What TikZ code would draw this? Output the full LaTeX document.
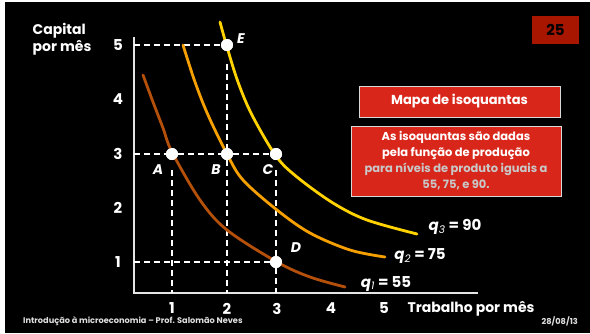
\documentclass[tikz,border=0pt]{standalone}
\usepackage{fontspec}
\setmainfont{Poppins}
\usetikzlibrary{calc}
\definecolor{qone}{HTML}{B4500A}
\definecolor{qtwo}{HTML}{F5A000}
\definecolor{qthree}{HTML}{FFD200}
\definecolor{boxred}{HTML}{D9261A}
\definecolor{numred}{HTML}{A81600}
\definecolor{palegray}{HTML}{C8C8C8}
\tikzset{
  lab/.style={text=white,font=\bfseries\fontsize{15}{17}\selectfont,inner sep=0pt},
  ptlab/.style={text=white,font=\bfseries\itshape\fontsize{14}{16}\selectfont,inner sep=0pt},
  dot/.style={circle,fill=white,minimum size=12pt,inner sep=0pt},
  dline/.style={draw=white,line width=1.4pt,dash pattern=on 6pt off 4pt},
  axis/.style={draw=white!90!black,line width=1.6pt},
  curve/.style={line width=2.8pt,line cap=round},
  redbox/.style={fill=boxred,draw=white!85!black,line width=0.8pt,text=white,inner sep=0pt},
  foot/.style={text=white!88!black,font=\bfseries\fontsize{8.2}{10}\selectfont,inner sep=0pt}
}
\begin{document}
\begin{tikzpicture}[x=1pt,y=-1pt]
\useasboundingbox (0,0) rectangle (590,333);
\fill[white] (0,0) rectangle (590,333);
\fill[black] (5,2) rectangle (590,333);
% axes
\coordinate (O) at (134,293);
\coordinate (ytop) at (134,37);
\coordinate (xend) at (478,293);
\draw[axis] (ytop) -- (O) -- (xend);
% points
\node[dot] (A) at (172,154) {};
\node[dot] (B) at (227,154) {};
\node[dot] (C) at (276,154) {};
\node[dot] (D) at (276,262) {};
\node[dot] (E) at (227,45) {};
% axis coordinates
\coordinate (y5) at (134,45);
\coordinate (y3) at (134,154);
\coordinate (y1) at (134,262);
\coordinate (x1) at (172,293);
\coordinate (x2) at (227,293);
\coordinate (x3) at (276,293);
\coordinate (Alow) at (172,170);
\coordinate (Clow) at (276,170);
\coordinate (Elow) at (227,64);
% dashed lines
\draw[dline] (y5) -- (E.west);
\draw[dline] (Elow) -- (B.north);
\draw[dline] (B.south) -- (x2);
\draw[dline] (y3) -- (A.west);
\draw[dline] (A.east) -- (B.west);
\draw[dline] (B.east) -- (C.west);
\draw[dline] (Alow) -- (x1);
\draw[dline] (Clow) -- (D.north);
\draw[dline] (D.south) -- (x3);
\draw[dline] (y1) -- (D.west);
% curves
\draw[curve,qone] plot[smooth,tension=0.55] coordinates {(143,75) (153,102) (163,128) (172,152) (200,200) (227,230) (277,262) (310,277) (345,287)};
\draw[curve,qtwo] plot[smooth,tension=0.55] coordinates {(183,45) (195,82) (208,115) (227,154) (243,180) (277,210) (310,233) (350,250) (385,257)};
\draw[curve,qthree] plot[smooth,tension=0.55] coordinates {(220,22) (227,47) (238,82) (252,115) (276,156) (297,177) (333,203) (367,220) (417,234)};
\node[dot] at (A) {};
\node[dot] at (B) {};
\node[dot] at (C) {};
\node[dot] at (D) {};
\node[dot] at (E) {};
% point labels
\node[ptlab] (lA) at (158,170) {A};
\node[ptlab] (lB) at (216,170) {B};
\node[ptlab] (lC) at (268,170) {C};
\node[ptlab] (lD) at (296,248) {D};
\node[ptlab] (lE) at (241,39) {E};
% tick labels
\node[lab] (t5) at (118,45) {5};
\node[lab] (t4) at (118,99) {4};
\node[lab] (t3) at (118,154) {3};
\node[lab] (t2) at (118,208) {2};
\node[lab] (t1) at (118,262) {1};
\node[lab] (s1) at (172,308.5) {1};
\node[lab] (s2) at (227,308.5) {2};
\node[lab] (s3) at (277,308.5) {3};
\node[lab] (s4) at (331,308.5) {4};
\node[lab] (s5) at (384,308.5) {5};
% axis titles
\node[lab,align=left,font=\bfseries\fontsize{14}{17}\selectfont] (ytitle) at (62,39) {Capital\\por mês};
\node[lab,font=\bfseries\fontsize{14}{16}\selectfont] (xtitle) at (471,309) {Trabalho por mês};
% curve labels
\node[lab,font=\bfseries\fontsize{15}{17}\selectfont] (l3) at (455,227) {\textit{q}$_{\mathit 3}$ = 90};
\node[lab,font=\bfseries\fontsize{15}{17}\selectfont] (l2) at (420,256) {\textit{q}$_{\mathit 2}$ = 75};
\node[lab,font=\bfseries\fontsize{15}{17}\selectfont] (l1) at (386,284) {\textit{q}$_{\mathit 1}$ = 55};
% boxes
\node[fill=numred,minimum width=47pt,minimum height=28pt,inner sep=0pt,font=\bfseries\fontsize{15}{17}\selectfont] (num) at (555.5,30) {25};
\node[redbox,minimum width=201pt,minimum height=31pt,font=\bfseries\fontsize{13}{15}\selectfont] (title) at (459.5,101.5) {Mapa de isoquantas};
\node[redbox,minimum width=210pt,minimum height=70pt,align=center,font=\bfseries\fontsize{11.5}{16}\selectfont] (desc) at (456,161) {As isoquantas são dadas\\pela função de produção\\\textcolor{palegray}{para níveis de produto iguais a}\\\textcolor{palegray}{55, 75, e 90.}};
% footer
\node[foot,anchor=west] (footl) at (23,321.5) {Introdução à microeconomia – Prof. Salomão Neves};
\node[foot,anchor=east] (footr) at (578,321.5) {28/08/13};
\end{tikzpicture}
\end{document}
